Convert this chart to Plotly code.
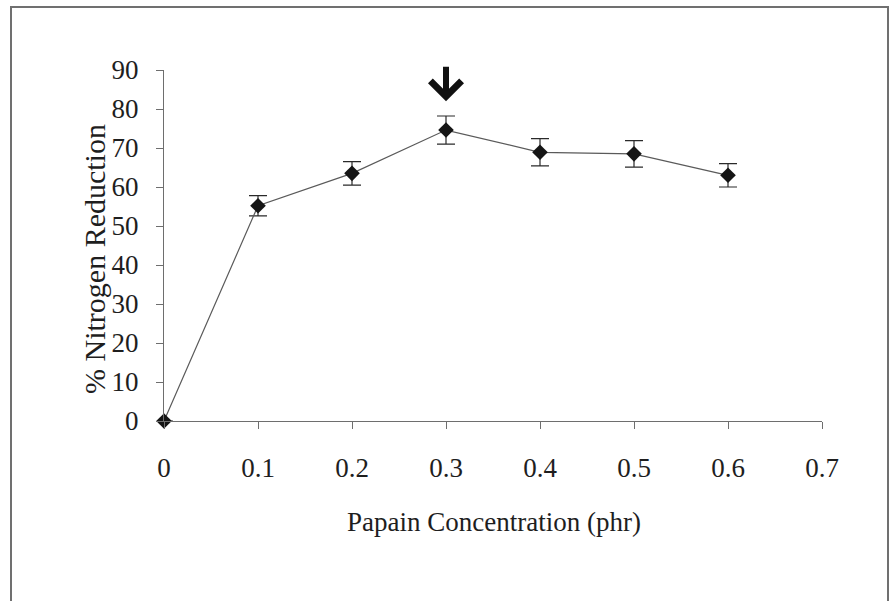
import plotly.graph_objects as go

# Papain dose series: nitrogen reduction with standard deviation
papain_phr = [0, 0.1, 0.2, 0.3, 0.4, 0.5, 0.6]
nitrogen_reduction = [0, 55.2, 63.5, 74.6, 68.9, 68.5, 63.0]
reduction_sd = [0, 2.6, 3.0, 3.6, 3.5, 3.4, 3.0]

x_ticks = [0, 0.1, 0.2, 0.3, 0.4, 0.5, 0.6, 0.7]
y_ticks = [0, 10, 20, 30, 40, 50, 60, 70, 80, 90]
best_dose = 0.3

W, H = 890, 601
L, R, T, B = 164, 68, 70, 180
PW, PH = W - L - R, H - T - B

def px_x(px):
    return (px - L) / PW

def px_y(py):
    return (H - B - py) / PH

FONT = "Liberation Serif, Times New Roman, serif"
AXIS_GREY = "#6e6e6e"
TEXT = "#1e1e1e"

fig = go.Figure()
fig.add_trace(go.Scatter(
    x=papain_phr,
    y=nitrogen_reduction,
    mode="lines+markers",
    line=dict(color="#5a5a5a", width=1.2),
    marker=dict(symbol="diamond", size=12, color="#151515"),
    error_y=dict(type="data", array=reduction_sd, visible=True,
                 color="#2a2a2a", thickness=1.2, width=9),
    cliponaxis=False,
    showlegend=False,
))

fig.update_layout(
    width=W, height=H,
    margin=dict(l=L, r=R, t=T, b=B),
    paper_bgcolor="white",
    plot_bgcolor="white",
    font=dict(family=FONT, size=27, color=TEXT),
    xaxis=dict(
        range=[0, 0.7], tickvals=x_ticks, ticktext=[f"{v:g}" for v in x_ticks],
        showgrid=False, zeroline=False, showline=True, linecolor=AXIS_GREY,
        linewidth=1.2, ticks="outside", ticklen=7, tickcolor=AXIS_GREY,
        ticklabelstandoff=15,
    ),
    yaxis=dict(
        range=[0, 90], tickvals=y_ticks,
        showgrid=False, zeroline=False, showline=True, linecolor=AXIS_GREY,
        linewidth=1.2, ticks="outside", ticklen=7, tickcolor=AXIS_GREY,
        ticklabelstandoff=12,
    ),
)

# axis titles
fig.add_annotation(text="Papain Concentration (phr)", xref="paper", yref="paper",
                   x=px_x(494), y=px_y(522), xanchor="center", yanchor="middle",
                   showarrow=False, font=dict(family=FONT, size=27, color=TEXT))
fig.add_annotation(text="% Nitrogen Reduction", xref="paper", yref="paper",
                   x=px_x(94), y=px_y(259), xanchor="center", yanchor="middle",
                   showarrow=False, textangle=-90,
                   font=dict(family=FONT, size=30, color=TEXT))

# arrow marking the optimum dose
fig.add_annotation(x=best_dose, y=82, xref="x", yref="y", text="",
                   showarrow=True, ax=0, ay=-36, arrowhead=4, arrowwidth=6,
                   arrowsize=1, arrowcolor="#111111", standoff=0)

# outer frame
fig.add_shape(type="rect", xref="paper", yref="paper",
              x0=px_x(11), x1=px_x(888), y0=px_y(640), y1=px_y(7),
              line=dict(color="#707070", width=2), layer="below")

fig.write_html("out.html")
